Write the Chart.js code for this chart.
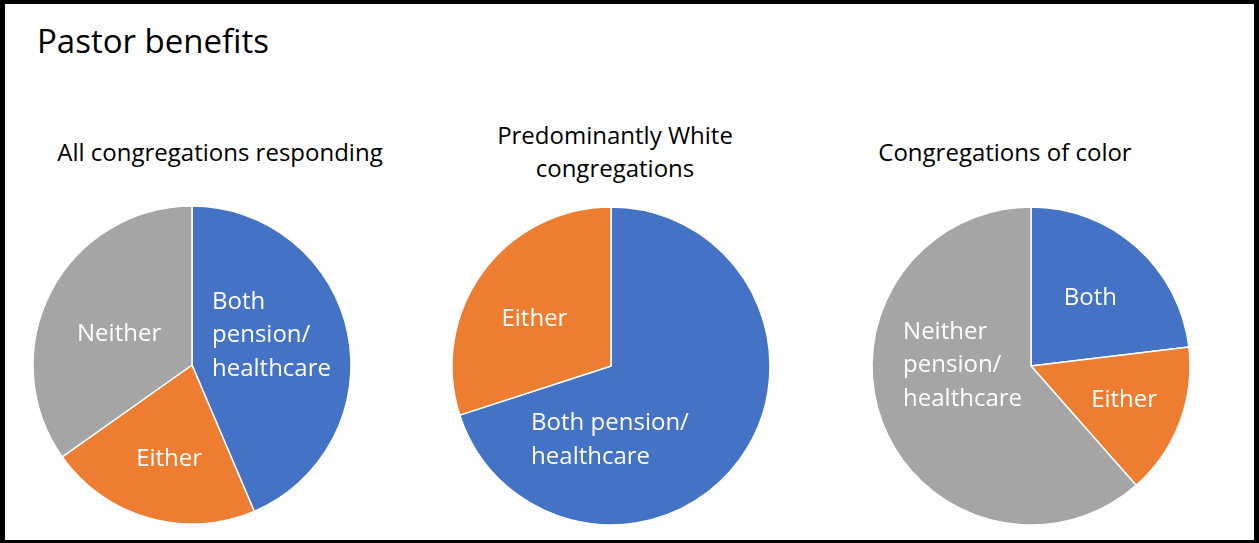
<!DOCTYPE html>
<html>
<head>
<meta charset="utf-8">
<title>Pastor benefits</title>
<script src="https://cdn.jsdelivr.net/npm/chart.js@4"></script>
<style>
  html, body { margin: 0; padding: 0; background: #fff; }
  #page { position: relative; width: 1259px; height: 543px; overflow: hidden; font-family: "Open Sans", sans-serif; color: #000; }
  #frame { position: absolute; left: 0; top: 0; right: 0; bottom: 0; border: solid #000; border-width: 4px 5px 3px 5px; pointer-events: none; }
  h1 { position: absolute; left: 37px; top: 21px; margin: 0; font-size: 33px; font-weight: 400; line-height: 40px; white-space: nowrap; }
  .sub { position: absolute; width: 400px; text-align: center; font-size: 24px; line-height: 33px; white-space: nowrap; }
  .pie { position: absolute; width: 340px; height: 340px; }
</style>
</head>
<body>
<div id="page">
  <h1>Pastor benefits</h1>
  <div class="sub" id="t0" style="left:20px; top:135px;"></div>
  <div class="sub" id="t1" style="left:415px; top:118px;"></div>
  <div class="sub" id="t2" style="left:805px; top:135px;"></div>
  <div class="pie" style="left:22px; top:195px;"><canvas id="pie0"></canvas></div>
  <div class="pie" style="left:441px; top:196px;"><canvas id="pie1"></canvas></div>
  <div class="pie" style="left:861px; top:196px;"><canvas id="pie2"></canvas></div>
  <div id="frame"></div>
</div>
<script>
// data (percent of congregations)
const categories = ['Both pension/healthcare', 'Either', 'Neither pension/healthcare'];
const pieTitles = [['All congregations responding'], ['Predominantly White', 'congregations'], ['Congregations of color']];
const allValues = [43.6, 21.6, 34.8];
const whiteValues = [70, 30, 0];
const colorValues = [23.1, 15.4, 61.5];

// slice label text, one entry per category
const allLabels = [['Both', 'pension/', 'healthcare'], ['Either'], ['Neither']];
const whiteLabels = [['Both pension/', 'healthcare'], ['Either'], []];
const colorLabels = [['Both'], ['Either'], ['Neither', 'pension/', 'healthcare']];

const sliceColors = ['#4472C4', '#ED7D31', '#A5A5A5'];

// where each label sits: [degrees clockwise from 12 o'clock, fraction of radius]
const labelSpots = [
  [[67.8, 0.54], [194.1, 0.59], [294.8, 0.505]],
  [[180.8, 0.448], [303.3, 0.576], null],
  [[40.1, 0.579], [108.6, 0.618], [273, 0.431]]
];

const sliceLabels = {
  id: 'sliceLabels',
  afterDatasetsDraw(chart, args, opts) {
    const { ctx } = chart;
    const arcs = chart.getDatasetMeta(0).data;
    ctx.save();
    ctx.fillStyle = '#fff';
    ctx.font = '24px "Open Sans", sans-serif';
    ctx.textBaseline = 'middle';
    ctx.textAlign = 'left';
    arcs.forEach((arc, i) => {
      const lines = opts.lines[i];
      const spot = opts.spots[i];
      if (!lines || !lines.length || !spot) return;
      const a = spot[0] * Math.PI / 180;
      const r = arc.outerRadius * spot[1];
      const px = arc.x + r * Math.sin(a);
      const py = arc.y - r * Math.cos(a) + 3;
      const w = Math.max(...lines.map(l => ctx.measureText(l).width));
      lines.forEach((line, j) => {
        ctx.fillText(line, px - w / 2, py + (j - (lines.length - 1) / 2) * 33.5);
      });
    });
    ctx.restore();
  }
};

function makePie(id, values, lines, spots) {
  return new Chart(document.getElementById(id), {
    type: 'pie',
    data: {
      labels: categories,
      datasets: [{
        data: values,
        backgroundColor: sliceColors,
        borderColor: '#fff',
        borderWidth: 1.5
      }]
    },
    options: {
      responsive: true,
      maintainAspectRatio: false,
      animation: false,
      radius: 159,
      layout: { padding: 0 },
      plugins: {
        legend: { display: false },
        tooltip: { enabled: false },
        sliceLabels: { lines, spots }
      }
    },
    plugins: [sliceLabels]
  });
}

pieTitles.forEach((t, i) => {
  document.getElementById('t' + i).innerHTML = t.join('<br>');
});

makePie('pie0', allValues, allLabels, labelSpots[0]);
makePie('pie1', whiteValues, whiteLabels, labelSpots[1]);
makePie('pie2', colorValues, colorLabels, labelSpots[2]);
</script>
</body>
</html>
